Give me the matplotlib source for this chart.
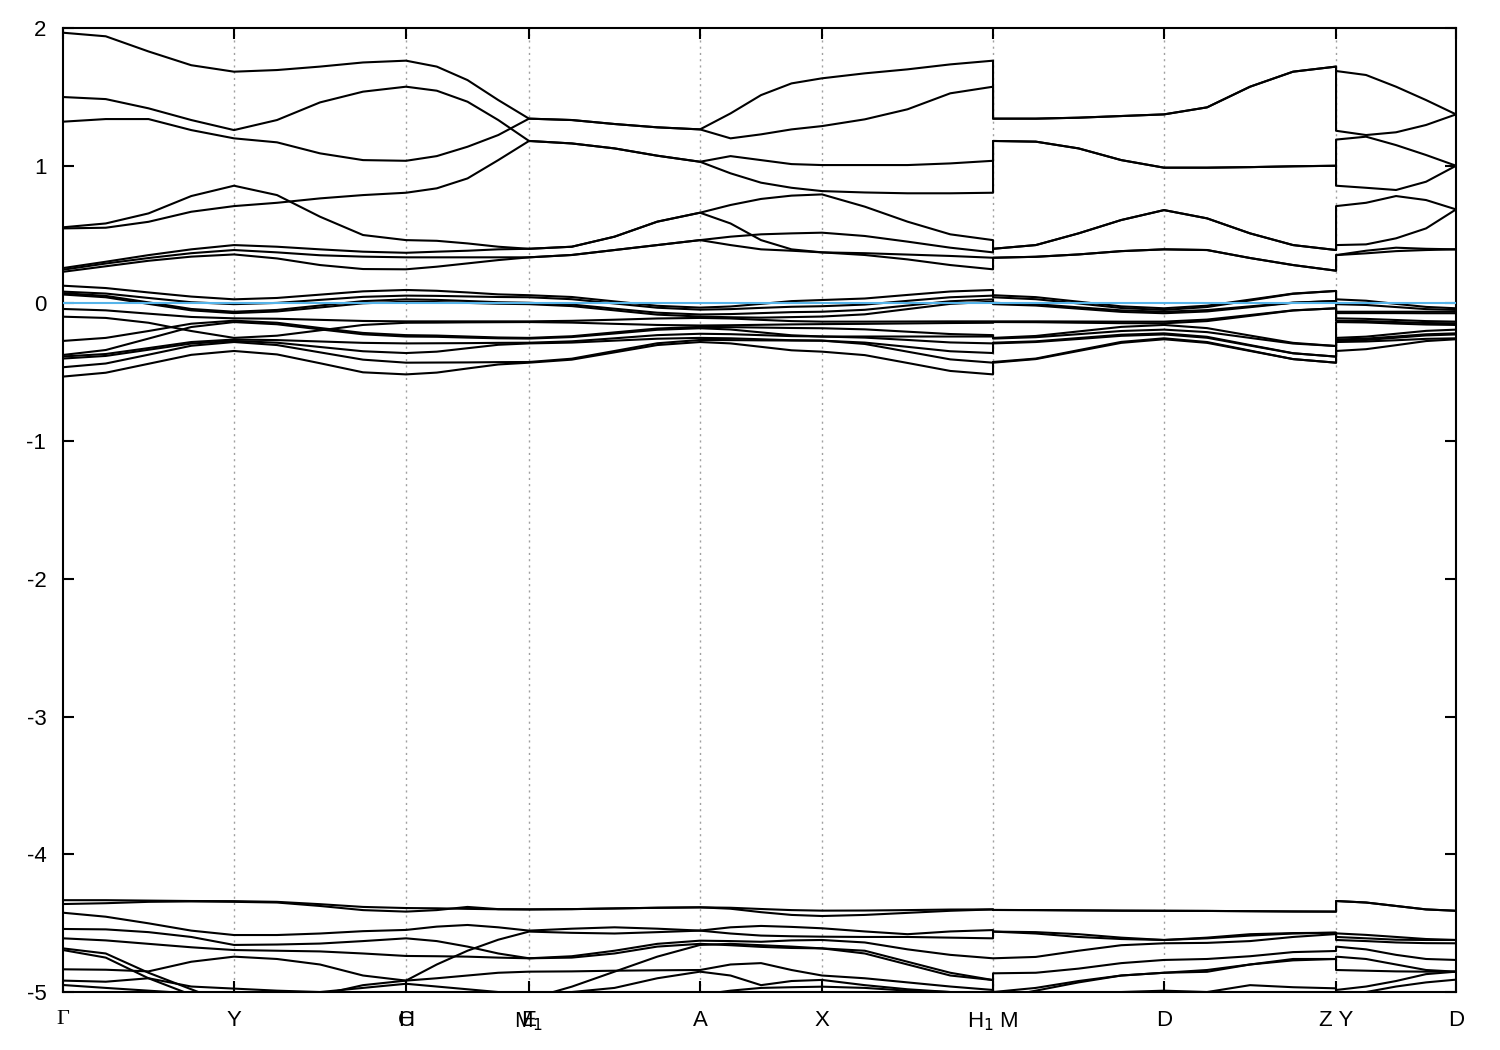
import numpy as np
import matplotlib.pyplot as plt

plt.rcParams['font.family'] = ['Liberation Sans', 'DejaVu Sans']
plt.rcParams['axes.unicode_minus'] = False

# k-path nodes (cumulative distance) and labels
node_k = [0.0, 0.171, 0.343, 0.466, 0.637, 0.759, 0.930, 1.101, 1.273, 1.393]
node_labels = ['Γ', 'Y', 'C', 'E', 'A', 'X', 'H$_1$ M', 'D', 'Z Y', 'D']
extra_labels = {2: 'H', 3: 'M$_1$'}
breaks = [6, 8]   # H1|M and Z|Y jumps

# sample k: segment ends plus quarter points, a repeated k at each jump
kpts = [node_k[0]]
for i in range(len(node_k) - 1):
    kpts += list(np.linspace(node_k[i], node_k[i + 1], 5)[1:])
    if i + 1 in breaks:
        kpts.append(node_k[i + 1])
kpts = np.array(kpts)

# conduction-like bands (0.2 .. 2 eV)
upper_bands = [
    [1.966, 1.94, 1.83, 1.73, 1.683, 1.695, 1.72, 1.75, 1.763, 1.72, 1.622, 1.477, 1.342,
     1.332, 1.303, 1.279, 1.264, 1.38, 1.513, 1.598, 1.635, 1.671, 1.70, 1.736, 1.763, 1.342,
     1.342, 1.349, 1.361, 1.373, 1.424, 1.574, 1.683, 1.72, 1.688, 1.659, 1.574, 1.477, 1.373],
    [1.499, 1.484, 1.417, 1.332, 1.259, 1.332, 1.46, 1.538, 1.574, 1.545, 1.465, 1.332, 1.18,
     1.162, 1.126, 1.073, 1.029, 0.945, 0.877, 0.84, 0.816, 0.806, 0.80, 0.80, 0.804, 1.18,
     1.175, 1.126, 1.041, 0.986, 0.986, 0.99, 0.996, 1.0, 0.855, 0.84, 0.824, 0.884, 1.0],
    [1.32, 1.339, 1.339, 1.259, 1.199, 1.17, 1.09, 1.041, 1.036, 1.07, 1.138, 1.223, 1.342,
     1.332, 1.303, 1.279, 1.264, 1.199, 1.228, 1.264, 1.288, 1.337, 1.41, 1.526, 1.574, 1.342,
     1.342, 1.349, 1.361, 1.373, 1.424, 1.574, 1.683, 1.72, 1.254, 1.223, 1.243, 1.296, 1.373],
    [0.553, 0.581, 0.654, 0.78, 0.855, 0.787, 0.63, 0.497, 0.46, 0.455, 0.436, 0.412, 0.397,
     0.412, 0.485, 0.594, 0.659, 0.715, 0.759, 0.783, 0.792, 0.703, 0.594, 0.502, 0.46, 0.397,
     0.424, 0.509, 0.606, 0.678, 0.618, 0.509, 0.424, 0.388, 0.707, 0.731, 0.78, 0.751, 0.683],
    [0.545, 0.55, 0.593, 0.666, 0.707, 0.731, 0.763, 0.787, 0.804, 0.836, 0.908, 1.041, 1.18,
     1.162, 1.126, 1.073, 1.029, 1.07, 1.041, 1.012, 1.005, 1.005, 1.005, 1.017, 1.036, 1.18,
     1.175, 1.126, 1.041, 0.986, 0.986, 0.99, 0.996, 1.0, 1.19, 1.211, 1.15, 1.078, 1.0],
    [0.257, 0.303, 0.351, 0.393, 0.424, 0.412, 0.393, 0.376, 0.368, 0.376, 0.383, 0.393, 0.397,
     0.412, 0.485, 0.594, 0.659, 0.581, 0.46, 0.393, 0.371, 0.352, 0.32, 0.279, 0.248, 0.332,
     0.339, 0.356, 0.38, 0.393, 0.388, 0.33, 0.279, 0.238, 0.351, 0.383, 0.405, 0.397, 0.393],
    [0.245, 0.29, 0.33, 0.365, 0.388, 0.371, 0.35, 0.34, 0.335, 0.335, 0.335, 0.335, 0.335,
     0.352, 0.388, 0.424, 0.46, 0.485, 0.502, 0.509, 0.514, 0.49, 0.449, 0.405, 0.371, 0.397,
     0.424, 0.509, 0.606, 0.678, 0.618, 0.509, 0.424, 0.388, 0.424, 0.429, 0.473, 0.545, 0.683],
    [0.23, 0.27, 0.31, 0.34, 0.356, 0.327, 0.279, 0.25, 0.248, 0.267, 0.291, 0.315, 0.335,
     0.352, 0.388, 0.424, 0.46, 0.424, 0.393, 0.383, 0.371, 0.365, 0.355, 0.345, 0.332, 0.332,
     0.339, 0.356, 0.38, 0.393, 0.388, 0.33, 0.279, 0.238, 0.351, 0.364, 0.38, 0.388, 0.393],
]

# bands around the Fermi level
fermi_bands = [
    [0.129, 0.112, 0.08, 0.05, 0.03, 0.04, 0.064, 0.088, 0.098, 0.092, 0.08, 0.066, 0.06,
     0.047, 0.015, -0.017, -0.03, -0.022, -0.003, 0.017, 0.025, 0.036, 0.062, 0.087, 0.098, 0.06,
     0.046, 0.013, -0.021, -0.035, -0.016, 0.028, 0.072, 0.091, 0.03, 0.02, -0.003, -0.025, -0.035],
    [0.086, 0.072, 0.04, 0.009, -0.005, 0.004, 0.026, 0.048, 0.057, 0.055, 0.051, 0.047, 0.045,
     0.031, 0.0, -0.031, -0.045, -0.041, -0.032, -0.024, -0.02, -0.008, 0.019, 0.045, 0.057, 0.045,
     0.031, 0.0, -0.033, -0.047, -0.026, 0.022, 0.07, 0.091, -0.005, -0.011, -0.026, -0.041, -0.047],
    [0.075, 0.055, 0.008, -0.04, -0.06, -0.047, -0.015, 0.017, 0.03, 0.026, 0.018, 0.009, 0.005,
     -0.008, -0.038, -0.067, -0.08, -0.077, -0.07, -0.063, -0.06, -0.046, -0.015, 0.016, 0.03, 0.005,
     -0.005, -0.028, -0.05, -0.06, -0.048, -0.021, 0.006, 0.018, -0.06, -0.06, -0.06, -0.06, -0.06],
    [0.065, 0.045, -0.003, -0.05, -0.07, -0.058, -0.029, 0.001, 0.013, 0.01, 0.004, -0.002, -0.005,
     -0.019, -0.05, -0.081, -0.095, -0.1, -0.103, -0.099, -0.095, -0.079, -0.041, -0.003, 0.013, -0.005,
     -0.015, -0.038, -0.061, -0.071, -0.058, -0.027, 0.005, 0.018, -0.07, -0.07, -0.07, -0.071, -0.071],
    [-0.04, -0.05, -0.074, -0.098, -0.108, -0.111, -0.119, -0.127, -0.13, -0.13, -0.13, -0.13, -0.13,
     -0.126, -0.118, -0.109, -0.105, -0.109, -0.119, -0.128, -0.132, -0.132, -0.131, -0.13, -0.13, -0.13,
     -0.13, -0.131, -0.132, -0.132, -0.117, -0.084, -0.05, -0.035, -0.108, -0.112, -0.12, -0.128, -0.132],
    [-0.096, -0.105, -0.14, -0.2, -0.25, -0.234, -0.195, -0.156, -0.14, -0.139, -0.137, -0.136, -0.135,
     -0.139, -0.148, -0.156, -0.16, -0.158, -0.155, -0.152, -0.15, -0.148, -0.145, -0.142, -0.14, -0.135,
     -0.136, -0.14, -0.143, -0.144, -0.128, -0.09, -0.051, -0.035, -0.125, -0.128, -0.135, -0.142, -0.144],
    [-0.272, -0.25, -0.2, -0.147, -0.125, -0.14, -0.178, -0.214, -0.23, -0.233, -0.24, -0.247, -0.25,
     -0.238, -0.21, -0.182, -0.17, -0.172, -0.175, -0.178, -0.18, -0.188, -0.205, -0.222, -0.23, -0.25,
     -0.236, -0.203, -0.17, -0.156, -0.179, -0.233, -0.286, -0.309, -0.135, -0.138, -0.146, -0.153, -0.156],
    [-0.374, -0.338, -0.255, -0.171, -0.135, -0.151, -0.188, -0.224, -0.24, -0.242, -0.248, -0.253, -0.255,
     -0.244, -0.218, -0.191, -0.18, -0.189, -0.21, -0.231, -0.24, -0.24, -0.24, -0.24, -0.24, -0.255,
     -0.245, -0.223, -0.2, -0.19, -0.208, -0.25, -0.291, -0.309, -0.25, -0.241, -0.22, -0.199, -0.19],
    [-0.385, -0.367, -0.324, -0.28, -0.262, -0.266, -0.276, -0.286, -0.29, -0.289, -0.288, -0.286, -0.285,
     -0.275, -0.253, -0.23, -0.22, -0.223, -0.23, -0.237, -0.24, -0.248, -0.265, -0.283, -0.29, -0.285,
     -0.275, -0.251, -0.227, -0.217, -0.242, -0.302, -0.361, -0.386, -0.262, -0.255, -0.24, -0.224, -0.217],
    [-0.40, -0.381, -0.336, -0.291, -0.272, -0.285, -0.316, -0.347, -0.36, -0.35, -0.325, -0.3, -0.29,
     -0.284, -0.27, -0.256, -0.25, -0.253, -0.26, -0.267, -0.27, -0.284, -0.315, -0.347, -0.36, -0.29,
     -0.28, -0.258, -0.235, -0.225, -0.249, -0.306, -0.362, -0.386, -0.272, -0.265, -0.249, -0.232, -0.225],
    [-0.463, -0.436, -0.372, -0.307, -0.28, -0.302, -0.355, -0.408, -0.43, -0.429, -0.428, -0.426, -0.425,
     -0.401, -0.345, -0.289, -0.265, -0.266, -0.268, -0.269, -0.27, -0.294, -0.35, -0.406, -0.43, -0.425,
     -0.4, -0.339, -0.279, -0.253, -0.28, -0.342, -0.404, -0.43, -0.28, -0.276, -0.267, -0.257, -0.253],
    [-0.531, -0.503, -0.438, -0.373, -0.345, -0.37, -0.434, -0.5, -0.515, -0.502, -0.472, -0.443, -0.43,
     -0.408, -0.355, -0.302, -0.28, -0.29, -0.315, -0.34, -0.35, -0.375, -0.432, -0.49, -0.515, -0.43,
     -0.404, -0.345, -0.286, -0.26, -0.286, -0.345, -0.404, -0.43, -0.345, -0.332, -0.303, -0.273, -0.26],
]

# deep bands (-4.3 .. -5 eV)
lower_bands = [
    [-4.333, -4.333, -4.336, -4.339, -4.34, -4.345, -4.362, -4.382, -4.39, -4.392, -4.396, -4.399, -4.40,
     -4.398, -4.393, -4.388, -4.385, -4.388, -4.397, -4.405, -4.409, -4.408, -4.405, -4.401, -4.40, -4.404,
     -4.405, -4.407, -4.409, -4.41, -4.411, -4.413, -4.415, -4.416, -4.339, -4.35, -4.375, -4.40, -4.41],
    [-4.361, -4.355, -4.345, -4.342, -4.345, -4.35, -4.375, -4.405, -4.416, -4.405, -4.382, -4.398, -4.40,
     -4.398, -4.393, -4.388, -4.385, -4.395, -4.42, -4.44, -4.448, -4.44, -4.425, -4.41, -4.40, -4.404,
     -4.405, -4.407, -4.409, -4.41, -4.411, -4.413, -4.415, -4.416, -4.339, -4.35, -4.375, -4.40, -4.41],
    [-4.424, -4.453, -4.501, -4.554, -4.586, -4.586, -4.575, -4.558, -4.549, -4.525, -4.513, -4.53, -4.554,
     -4.54, -4.53, -4.54, -4.554, -4.53, -4.52, -4.527, -4.537, -4.56, -4.58, -4.56, -4.55, -4.561,
     -4.575, -4.60, -4.615, -4.622, -4.61, -4.59, -4.575, -4.569, -4.574, -4.585, -4.60, -4.615, -4.622],
    [-4.542, -4.545, -4.565, -4.60, -4.658, -4.655, -4.648, -4.63, -4.61, -4.63, -4.67, -4.72, -4.755,
     -4.74, -4.70, -4.65, -4.627, -4.63, -4.635, -4.625, -4.622, -4.64, -4.69, -4.73, -4.755, -4.755,
     -4.745, -4.70, -4.66, -4.646, -4.643, -4.63, -4.60, -4.579, -4.622, -4.63, -4.64, -4.645, -4.646],
    [-4.61, -4.625, -4.65, -4.675, -4.695, -4.70, -4.705, -4.72, -4.738, -4.74, -4.743, -4.75, -4.755,
     -4.75, -4.72, -4.67, -4.65, -4.66, -4.672, -4.68, -4.683, -4.72, -4.80, -4.88, -4.913, -4.864,
     -4.86, -4.83, -4.79, -4.767, -4.76, -4.74, -4.71, -4.702, -4.67, -4.69, -4.73, -4.76, -4.767],
    [-4.835, -4.838, -4.85, -4.78, -4.743, -4.76, -4.80, -4.88, -4.917, -4.80, -4.70, -4.62, -4.561,
     -4.57, -4.575, -4.565, -4.554, -4.575, -4.59, -4.595, -4.598, -4.60, -4.60, -4.605, -4.61, -4.561,
     -4.565, -4.58, -4.605, -4.622, -4.605, -4.58, -4.572, -4.569, -4.60, -4.61, -4.62, -4.622, -4.622],
    [-4.683, -4.72, -4.86, -4.98, -5.10, -5.10, -5.02, -4.95, -4.917, -4.90, -4.88, -4.86, -4.852,
     -4.85, -4.845, -4.842, -4.84, -4.80, -4.79, -4.84, -4.88, -4.90, -4.93, -4.96, -4.985, -5.0,
     -4.97, -4.92, -4.88, -4.86, -4.84, -4.80, -4.77, -4.76, -4.743, -4.76, -4.80, -4.84, -4.852],
    [-4.695, -4.75, -4.90, -5.02, -5.10, -5.15, -5.15, -5.15, -5.15, -5.10, -5.05, -5.02, -5.05,
     -4.961, -4.852, -4.743, -4.658, -4.65, -4.66, -4.67, -4.683, -4.70, -4.78, -4.86, -4.913, -5.05,
     -4.99, -4.93, -4.88, -4.86, -4.853, -4.80, -4.76, -4.76, -4.84, -4.845, -4.85, -4.852, -4.852],
    [-4.917, -4.925, -4.90, -4.96, -4.975, -4.99, -5.0, -4.97, -4.94, -4.96, -4.98, -5.0, -5.02,
     -5.0, -4.97, -4.90, -4.852, -4.88, -4.95, -4.92, -4.912, -4.95, -4.98, -5.0, -5.02, -5.05,
     -5.05, -5.05, -5.05, -5.05, -5.0, -4.95, -4.965, -4.973, -4.985, -4.96, -4.92, -4.87, -4.852],
    [-4.949, -4.97, -4.99, -5.01, -5.05, -5.05, -5.05, -5.05, -5.05, -5.05, -5.05, -5.05, -5.05,
     -5.05, -5.05, -5.02, -5.02, -4.99, -4.97, -4.965, -4.961, -4.97, -4.99, -5.0, -5.02, -5.05,
     -5.05, -5.02, -5.0, -4.99, -5.0, -5.02, -5.05, -5.05, -5.05, -5.0, -4.96, -4.93, -4.91],
]

fig = plt.figure(figsize=(15, 10.5), dpi=100)
ax = fig.add_axes([0.042, 0.0552, 0.9287, 0.9181])

for k in node_k[1:-1]:
    ax.axvline(k, color='#a0a0a0', linestyle=(0, (1.5, 3)), linewidth=1.0, zorder=1)

for band in upper_bands + fermi_bands + lower_bands:
    ax.plot(kpts, band, color='black', linewidth=1.5, zorder=2)

ax.axhline(0.0, color='#56b4e9', linewidth=1.5, zorder=3)

ax.set_xlim(node_k[0], node_k[-1])
ax.set_ylim(-5, 2)
ax.set_yticks(range(-5, 3))
ax.set_yticklabels([str(v) for v in range(-5, 3)])
ax.set_xticks(node_k)
ax.set_xticklabels(node_labels)
ax.get_xticklabels()[0].set_fontfamily('Liberation Serif')

ax.tick_params(axis='both', direction='in', length=8, width=1.5, labelsize=16,
               top=True, right=True)
ax.tick_params(axis='y', pad=12)
ax.tick_params(axis='x', pad=13)
for s in ax.spines.values():
    s.set_linewidth(1.5)

# second label on the zero-length H-C and E-M1 steps, drawn on top
for i, lab in extra_labels.items():
    ax.annotate(lab, xy=(node_k[i], 0), xycoords=('data', 'axes fraction'),
                xytext=(0, -13), textcoords='offset points',
                ha='center', va='top', fontsize=16)

fig.savefig('out.png', dpi=100)
